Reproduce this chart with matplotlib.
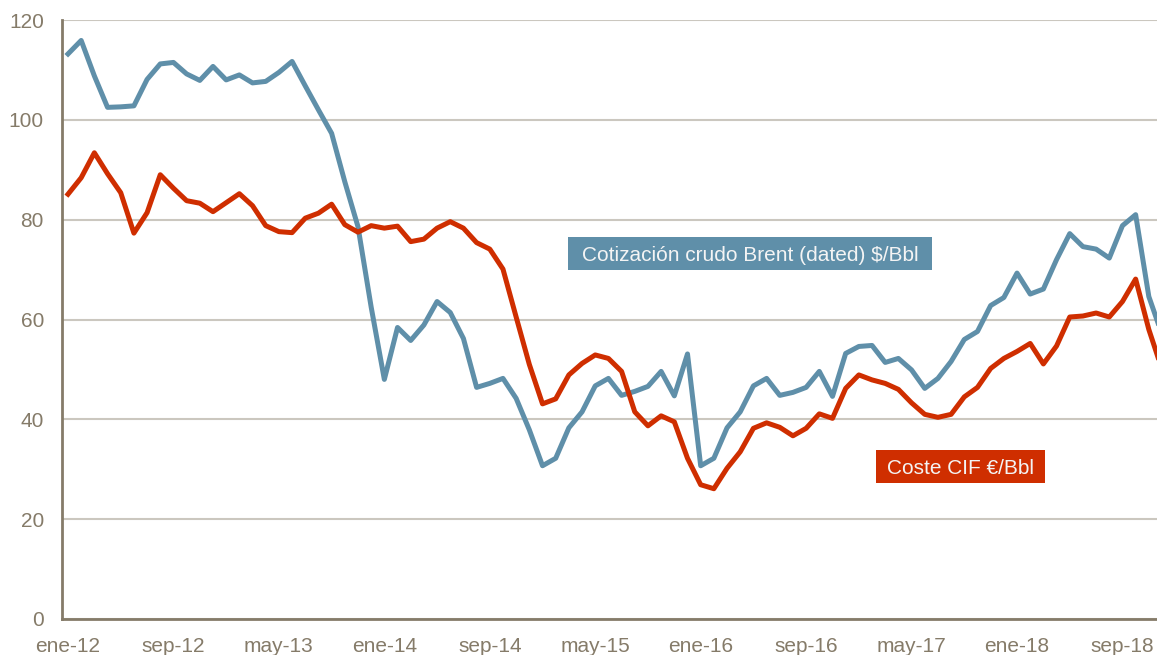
import matplotlib
matplotlib.use("Agg")
import matplotlib.pyplot as plt
from matplotlib.patches import Rectangle

# Monthly data, ene-12 .. dic-18
brent = [113.2, 115.9, 108.8, 102.5, 102.6, 102.8, 108.1, 111.2, 111.5, 109.2,
         107.9, 110.7, 108.0, 109.0, 107.4, 107.7, 109.5, 111.7, 106.8, 102.0,
         97.3, 87.6, 78.6, 62.5, 48.0, 58.4, 55.8, 58.9, 63.6, 61.4,
         56.2, 46.4, 47.2, 48.2, 44.2, 37.9, 30.7, 32.2, 38.3, 41.5,
         46.7, 48.2, 44.8, 45.6, 46.6, 49.6, 44.7, 53.1, 30.7, 32.2,
         38.3, 41.5, 46.7, 48.2, 44.8, 45.4, 46.4, 49.6, 44.6, 53.2,
         54.6, 54.8, 51.4, 52.2, 49.9, 46.2, 48.2, 51.6, 56.0, 57.6,
         62.8, 64.4, 69.3, 65.1, 66.1, 72.0, 77.2, 74.6, 74.1, 72.3,
         78.8, 81.0, 64.6, 57.0]
coste = [85.1, 88.4, 93.4, 89.2, 85.4, 77.3, 81.4, 89.0, 86.3, 83.8,
         83.3, 81.6, 83.4, 85.2, 82.8, 78.8, 77.6, 77.4, 80.3, 81.3,
         83.1, 79.0, 77.5, 78.8, 78.3, 78.7, 75.6, 76.1, 78.3, 79.6,
         78.3, 75.4, 74.1, 70.1, 60.5, 51.0, 43.1, 44.1, 48.9, 51.2,
         52.9, 52.2, 49.6, 41.5, 38.7, 40.7, 39.5, 32.2, 26.9, 26.1,
         30.2, 33.5, 38.2, 39.3, 38.4, 36.7, 38.2, 41.1, 40.2, 46.2,
         48.9, 47.9, 47.2, 46.0, 43.3, 41.0, 40.4, 41.0, 44.5, 46.4,
         50.2, 52.2, 53.6, 55.2, 51.1, 54.7, 60.5, 60.7, 61.3, 60.5,
         63.6, 68.1, 58.0, 50.0]
tick_labels = ["ene-12", "sep-12", "may-13", "ene-14", "sep-14", "may-15",
               "ene-16", "sep-16", "may-17", "ene-18", "sep-18"]
yticks = [0, 20, 40, 60, 80, 100, 120]

BLUE = "#5f8fa9"
RED = "#cf2e00"
TXT = "#857b69"
GRID = "#cbc7bf"

plt.rcParams["font.family"] = ["Liberation Sans", "DejaVu Sans"]

W, H = 1157, 655
fig = plt.figure(figsize=(W / 100, H / 100), dpi=100)
ax = fig.add_axes([62 / W, 36 / H, (W - 62) / W, 599 / H])

x = list(range(len(brent)))
ax.plot(x, brent, color=BLUE, lw=3.6, solid_joinstyle="round", zorder=3)
ax.plot(x, coste, color=RED, lw=3.6, solid_joinstyle="round", zorder=3)

ax.set_ylim(0, 120)
ax.set_xlim(-0.455, 82.62)
ax.set_yticks(yticks)
ax.set_yticklabels([str(v) for v in yticks])
ax.set_xticks(list(range(0, 8 * len(tick_labels), 8)))
ax.set_xticklabels(tick_labels)
ax.tick_params(axis="y", length=0, pad=13, labelsize=15, labelcolor=TXT)
ax.tick_params(axis="x", length=0, pad=13, labelsize=15, labelcolor=TXT)
ax.grid(axis="y", color=GRID, lw=1.5, zorder=0)
ax.set_axisbelow(True)
for s in ["top", "right"]:
    ax.spines[s].set_visible(False)
for s in ["left", "bottom"]:
    ax.spines[s].set_color(TXT)
    ax.spines[s].set_linewidth(2)
    ax.spines[s].set_zorder(4)


def label_box(x0, x1, y0, y1, text, color):
    fig.add_artist(Rectangle((x0 / W, 1 - y1 / H), (x1 - x0) / W, (y1 - y0) / H,
                             transform=fig.transFigure, facecolor=color,
                             edgecolor="none", zorder=5))
    fig.text((x0 + x1) / 2 / W, 1 - (y0 + y1) / 2 / H, text, color="#f4f4f4",
             fontsize=15, ha="center", va="center_baseline", zorder=6)


label_box(568, 932, 237, 270, "Cotización crudo Brent (dated) $/Bbl", BLUE)
label_box(876, 1045, 450, 483, "Coste CIF €/Bbl", RED)

fig.savefig("out.png", dpi=100)
